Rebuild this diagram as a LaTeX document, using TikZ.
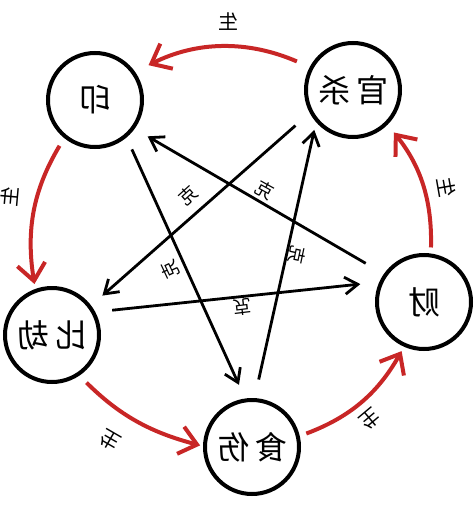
\documentclass[tikz,border=0pt]{standalone}
\usepackage{fontspec}
\setmainfont{Noto Sans CJK SC}
\usetikzlibrary{arrows.meta}
\definecolor{shengred}{RGB}{200,38,38}

\begin{document}
\begin{tikzpicture}[x=1pt,y=-1pt,
	elem/.style={circle,draw,line width=4pt,minimum size=94pt,inner sep=0pt,font=\fontsize{32}{32}\selectfont},
	sheng/.style={draw=shengred,line width=4pt,-{Straight Barb[length=17pt,width=28pt]}},
	ke/.style={draw,line width=2.8pt,-{Straight Barb[length=13pt,width=17pt]}},
	shenglabel/.style={inner sep=0pt,font=\fontsize{20}{20}\selectfont},
	kelabel/.style={inner sep=0pt,font=\fontsize{18}{18}\selectfont}]
		\useasboundingbox (0,0) rectangle (474,508);
		\node[elem] (yin) at (95,100) {\reflectbox{印}};
		\node[elem] (guansha) at (353,90) {\reflectbox{官\hspace{6pt}杀}};
		\node[elem] (bijie) at (52,335) {\reflectbox{比\hspace{6pt}劫}};
		\node[elem] (shishang) at (252,447) {\reflectbox{食\hspace{6pt}伤}};
		\node[elem] (cai) at (424,302) {\reflectbox{财}};

		\draw[sheng,shorten <=14pt,shorten >=15pt] (guansha.152) to[bend right=25] (yin.35);
		\draw[sheng,shorten <=9pt,shorten >=5pt] (yin.231) to[bend right=20] (bijie.110);
		\draw[sheng,shorten <=10pt,shorten >=3pt] (bijie.-56) to[bend right=15] (shishang.179);
		\draw[sheng,shorten <=7pt,shorten >=5pt] (shishang.13) to[bend right=20] (cai.246);
		\draw[sheng,shorten <=6pt,shorten >=10pt] (cai.82) to[bend right=20] (guansha.-45);

		\draw[ke,shorten <=13pt,shorten >=15pt] (yin.-50) -- (shishang.98);
		\draw[ke,shorten <=19pt,shorten >=8pt] (shishang.87) -- (guansha.221);
		\draw[ke,shorten <=19pt,shorten >=15pt] (guansha.208) -- (bijie.37);
		\draw[ke,shorten <=17pt,shorten >=19pt] (bijie.28) -- (cai.156);
		\draw[ke,shorten <=21pt,shorten >=15pt] (cai.145) -- (yin.-36);

		\node[shenglabel] (s1) at (228,22) {\reflectbox{生}};
		\node[shenglabel,rotate=85] (s2) at (10,197) {\reflectbox{生}};
		\node[shenglabel,rotate=150] (s3) at (110,440) {\reflectbox{生}};
		\node[shenglabel,rotate=-140] (s4) at (370,419) {\reflectbox{生}};
		\node[shenglabel,rotate=-80] (s5) at (447,187) {\reflectbox{生}};

		\node[kelabel,rotate=42] (k1) at (188,195) {\reflectbox{克}};
		\node[kelabel,rotate=-29] (k2) at (265,190) {\reflectbox{克}};
		\node[kelabel,rotate=-102] (k3) at (297,255) {\reflectbox{克}};
		\node[kelabel,rotate=115] (k4) at (170,270) {\reflectbox{克}};
		\node[kelabel,rotate=187] (k5) at (242,307) {\reflectbox{克}};
\end{tikzpicture}
\end{document}
